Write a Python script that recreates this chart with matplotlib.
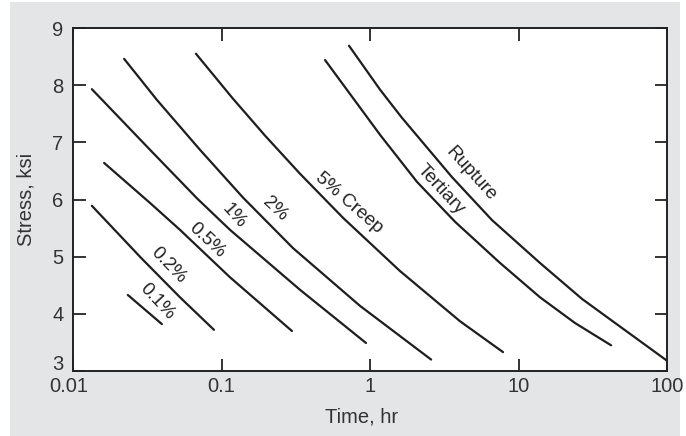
"""
Creep curves: stress vs time (log), for several creep strains, tertiary and rupture.
"""
import matplotlib
matplotlib.use("Agg")
import matplotlib.pyplot as plt
from matplotlib.patches import Rectangle
from matplotlib.transforms import ScaledTranslation

plt.rcParams["font.family"] = ["Liberation Sans", "DejaVu Sans"]

# Curves: time (hr) and stress (ksi)
t_01 = [0.0234, 0.0397]
s_01 = [4.33, 3.82]

t_02 = [0.0134, 0.0287, 0.0525, 0.0890]
s_02 = [5.89, 4.98, 4.29, 3.72]

t_05 = [0.0162, 0.0330, 0.0525, 0.114, 0.298]
s_05 = [6.64, 5.94, 5.47, 4.64, 3.70]

t_1 = [0.0134, 0.0330, 0.0684, 0.114, 0.338, 0.940]
s_1 = [7.93, 6.87, 6.02, 5.47, 4.42, 3.49]

t_2 = [0.0221, 0.0368, 0.0716, 0.140, 0.303, 0.856, 2.58]
s_2 = [8.46, 7.74, 6.87, 6.03, 5.15, 4.14, 3.20]

t_5 = [0.0673, 0.118, 0.196, 0.338, 0.658, 1.59, 4.04, 7.87]
s_5 = [8.55, 7.78, 7.12, 6.45, 5.68, 4.75, 3.87, 3.33]

t_ter = [0.498, 1.17, 2.07, 3.74, 7.51, 13.95, 24.0, 42.0]
s_ter = [8.44, 7.13, 6.31, 5.61, 4.89, 4.29, 3.84, 3.45]

t_rup = [0.722, 1.17, 1.64, 3.57, 6.63, 13.95, 26.8, 100]
s_rup = [8.69, 7.92, 7.43, 6.39, 5.64, 4.89, 4.26, 3.18]

curves = [(t_01, s_01), (t_02, s_02), (t_05, s_05), (t_1, s_1),
          (t_2, s_2), (t_5, s_5), (t_ter, s_ter), (t_rup, s_rup)]

# Curve labels: text, time, stress, rotation
label_text = ["0.1%", "0.2%", "0.5%", "1%", "2%", "5% Creep", "Tertiary", "Rupture"]
label_t = [0.0368, 0.0437, 0.0798, 0.121, 0.229, 0.722, 3.01, 4.79]
label_s = [4.21, 4.85, 5.29, 5.71, 5.84, 5.94, 6.17, 6.45]
label_rot = [-47, -46, -43, -48, -43, -41, -47, -48]

xticks = [0.01, 0.1, 1, 10, 100]
xticklabels = ["0.01", "0.1", "1", "10", "100"]
yticks = [3, 4, 5, 6, 7, 8, 9]

fig = plt.figure(figsize=(6.86, 4.36), dpi=100, facecolor="white")
# grey panel behind the plot
fig.patches.append(Rectangle((10 / 686, 0), 670 / 686, 434 / 436,
                             transform=fig.transFigure, facecolor="#e4e5e7",
                             edgecolor="none", zorder=-10))
ax = fig.add_axes([73 / 686, 1 - 371 / 436, 594 / 686, 343 / 436])
ax.set_facecolor("white")

for t, s in curves:
    ax.plot(t, s, color="#1e1e1e", lw=1.6, solid_capstyle="round",
            solid_joinstyle="round")

for txt, t, s, r in zip(label_text, label_t, label_s, label_rot):
    ax.text(t, s, txt, rotation=r, rotation_mode="anchor", ha="center", va="center",
            fontsize=13.5, color="#222222")

ax.set_xscale("log")
ax.set_xlim(0.01, 100)
ax.set_ylim(3, 9)
ax.set_xticks(xticks)
ax.set_xticklabels(xticklabels)
ax.set_yticks(yticks)
ax.minorticks_off()
ax.tick_params(which="both", direction="in", length=9, width=1.4, color="#333333",
               labelsize=14.5, labelcolor="#333333", top=True, right=True)
ax.tick_params(axis="x", pad=4)
ax.tick_params(axis="y", pad=7)
for sp in ax.spines.values():
    sp.set_linewidth(1.4)
    sp.set_color("#222222")

# nudge the corner labels apart like the original
lab3 = ax.yaxis.get_major_ticks()[0].label1
lab3.set_transform(lab3.get_transform() + ScaledTranslation(0, 6 / 72, fig.dpi_scale_trans))
lab001 = ax.xaxis.get_major_ticks()[0].label1
lab001.set_transform(lab001.get_transform() + ScaledTranslation(-3 / 72, 0, fig.dpi_scale_trans))

ax.set_xlabel("Time, hr", fontsize=14.5, color="#333333", labelpad=6)
ax.xaxis.set_label_coords(0.485, -0.105)
ax.set_ylabel("Stress, ksi", fontsize=14.5, color="#333333", labelpad=12)

plt.savefig("out.png", dpi=100)
plt.close()
